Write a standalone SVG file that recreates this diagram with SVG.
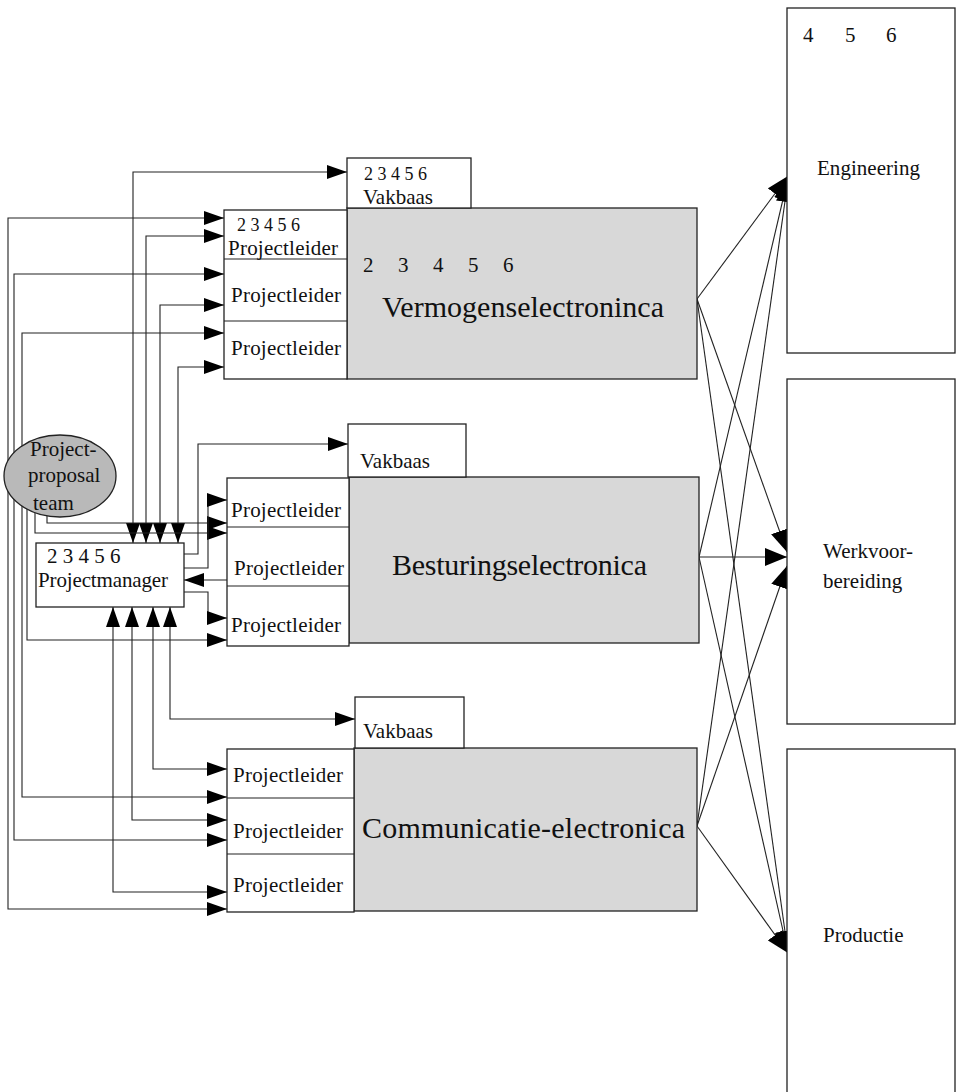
<svg xmlns="http://www.w3.org/2000/svg" width="956" height="1092" viewBox="0 0 956 1092">
<style>
text{font-family:"Liberation Serif","Times New Roman",serif;fill:#111;font-size:21px}
.big{font-size:30px}
.num{font-size:18px}
.box{fill:#fff;stroke:#222;stroke-width:1.3}
.gray{fill:#d8d8d8;stroke:#222;stroke-width:1.3}
.div{stroke:#222;stroke-width:1.2}
.c{fill:none;stroke:#222;stroke-width:1.1}
.a1{marker-end:url(#ah)}
.a2{marker-start:url(#ah);marker-end:url(#ah)}
.r{fill:none;stroke:#222;stroke-width:1.1;marker-end:url(#ahb)}
</style>
<defs>
<marker id="ah" viewBox="0 0 20 14" refX="20" refY="7" markerWidth="20" markerHeight="14" markerUnits="userSpaceOnUse" orient="auto-start-reverse"><path d="M0,0 L20,7 L0,14 z" fill="#000"/></marker>
<marker id="ahb" viewBox="0 0 22 18" refX="22" refY="9" markerWidth="22" markerHeight="18" markerUnits="userSpaceOnUse" orient="auto"><path d="M0,0 L22,9 L0,18 z" fill="#000"/></marker>
</defs>

<g id="connectors">
<path class="c a2" d="M133,543 V172 H347"/>
<path class="c a2" d="M146,543 V236 H224"/>
<path class="c a2" d="M160,543 V305 H224"/>
<path class="c a2" d="M178,543 V367 H224"/>
<path class="c a2" d="M224,218 H8 V909 H227"/>
<path class="c a2" d="M224,274 H14 V840 H227"/>
<path class="c a2" d="M224,333 H22 V797 H227"/>
<path class="c a1" d="M27,508 V640 H227"/>
<path class="c a1" d="M35,512 V533 H227"/>
<path class="c a1" d="M47,516 V523 H227"/>
<path class="c a1" d="M184,554 H198 V444 H348"/>
<path class="c a1" d="M184,568 H208 V500 H227"/>
<path class="c a1" d="M227,580 H184"/>
<path class="c a1" d="M184,592 H208 V618 H227"/>
<path class="c a2" d="M113,607 V892 H227"/>
<path class="c a2" d="M132,607 V820 H227"/>
<path class="c a2" d="M153,607 V769 H227"/>
<path class="c a2" d="M170,607 V719 H355"/>
<path class="r" d="M697,299 L788,176"/>
<path class="r" d="M697,299 L787,552"/>
<path class="r" d="M697,299 L788,953"/>
<path class="r" d="M699,557 L788,178"/>
<path class="r" d="M699,557 L787,557"/>
<path class="r" d="M699,557 L788,953"/>
<path class="r" d="M697,826 L788,180"/>
<path class="r" d="M697,826 L787,566"/>
<path class="r" d="M697,826 L788,953"/>
</g>

<g id="proposal-team">
<ellipse cx="60" cy="476" rx="56" ry="41" fill="#b9b9b9" stroke="#222" stroke-width="1.3"/>
<text x="30" y="456" font-size="22">Project-</text>
<text x="28" y="482" font-size="23">proposal</text>
<text x="33" y="510" font-size="22">team</text>
</g>

<g id="projectmanager">
<rect class="box" x="36" y="543" width="148" height="64"/>
<text x="47" y="563">2 3 4 5 6</text>
<text x="38" y="587" textLength="130">Projectmanager</text>
</g>

<g id="vermogen">
<rect class="gray" x="347" y="208" width="350" height="171"/>
<text x="363 398 433 468 503" y="272">23456</text>
<text class="big" x="382" y="317" textLength="282">Vermogenselectroninca</text>
</g>
<g id="vakbaas-1">
<rect class="box" x="347" y="158" width="124" height="50"/>
<text class="num" x="364" y="180">2 3 4 5 6</text>
<text x="363" y="204">Vakbaas</text>
</g>
<g id="projectleiders-1">
<rect class="box" x="224" y="210" width="123" height="169"/>
<line class="div" x1="224" y1="259" x2="347" y2="259"/>
<line class="div" x1="224" y1="321" x2="347" y2="321"/>
<text class="num" x="237" y="231">2 3 4 5 6</text>
<text x="228" y="255" textLength="110">Projectleider</text>
<text x="231" y="302" textLength="110">Projectleider</text>
<text x="231" y="355" textLength="110">Projectleider</text>
</g>

<g id="besturing">
<rect class="gray" x="349" y="477" width="350" height="166"/>
<text class="big" x="392" y="575" textLength="255">Besturingselectronica</text>
</g>
<g id="vakbaas-2">
<rect class="box" x="348" y="424" width="118" height="53"/>
<text x="360" y="468">Vakbaas</text>
</g>
<g id="projectleiders-2">
<rect class="box" x="227" y="478" width="122" height="168"/>
<line class="div" x1="227" y1="527" x2="349" y2="527"/>
<line class="div" x1="227" y1="586" x2="349" y2="586"/>
<text x="231" y="517" textLength="110">Projectleider</text>
<text x="234" y="575" textLength="110">Projectleider</text>
<text x="231" y="632" textLength="110">Projectleider</text>
</g>

<g id="communicatie">
<rect class="gray" x="354" y="748" width="343" height="163"/>
<text class="big" x="362" y="838" textLength="323">Communicatie-electronica</text>
</g>
<g id="vakbaas-3">
<rect class="box" x="355" y="697" width="109" height="51"/>
<text x="363" y="738">Vakbaas</text>
</g>
<g id="projectleiders-3">
<rect class="box" x="227" y="749" width="127" height="163"/>
<line class="div" x1="227" y1="798" x2="354" y2="798"/>
<line class="div" x1="227" y1="854" x2="354" y2="854"/>
<text x="233" y="782" textLength="110">Projectleider</text>
<text x="233" y="838" textLength="110">Projectleider</text>
<text x="233" y="892" textLength="110">Projectleider</text>
</g>

<g id="engineering">
<rect class="box" x="787" y="8" width="168" height="345"/>
<text x="803 845 886" y="42">456</text>
<text x="817" y="175" textLength="103">Engineering</text>
</g>
<g id="werkvoorbereiding">
<rect class="box" x="787" y="379" width="168" height="345"/>
<text x="823" y="558">Werkvoor-</text>
<text x="823" y="588">bereiding</text>
</g>
<g id="productie">
<rect class="box" x="787" y="749" width="168" height="360"/>
<text x="823" y="942">Productie</text>
</g>
</svg>
